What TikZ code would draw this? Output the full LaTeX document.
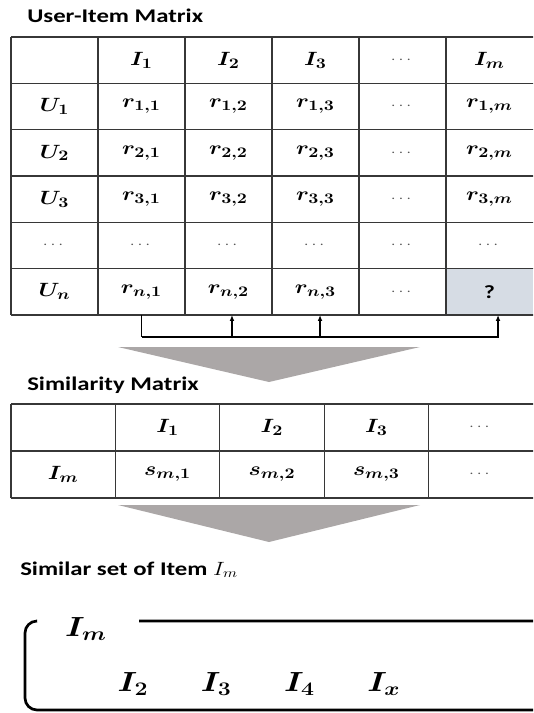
\documentclass[tikz,border=0pt]{standalone}
\usepackage{amsmath}
\usepackage{fontspec}
\usepackage{xcolor}
\usepackage{tikz}
\usetikzlibrary{arrows.meta,positioning,calc}
\newfontfamily\headfont[FakeStretch=1.28]{Carlito}
\definecolor{gridgray}{RGB}{55,55,55}
\definecolor{dotgray}{RGB}{85,85,85}
\definecolor{qfill}{RGB}{214,220,228}
\definecolor{funnelgray}{RGB}{171,167,167}
\newcommand{\gdots}{\mbox{\unboldmath\color{dotgray}\fontsize{11}{13}\selectfont$\cdots$}}
\newcommand{\wm}[1]{\scalebox{1.2}[1]{$#1$}}
\tikzset{
  title/.style={anchor=base west, inner sep=0pt,
    font=\headfont\bfseries\fontsize{14.5}{17}\selectfont},
  ucell/.style={minimum width=65.25pt, minimum height=34.75pt, inner sep=0pt,
    outer sep=0pt, font=\fontsize{15}{18}\selectfont\boldmath},
  scell/.style={ucell, minimum width=78.3pt, minimum height=35.25pt},
  gridline/.style={draw=gridgray, line width=1pt},
  link/.style={-{Latex[length=4.5pt,width=3.6pt]}, line width=0.9pt},
  setitem/.style={inner sep=0pt, font=\fontsize{20}{24}\selectfont\boldmath},
  setline/.style={line width=2pt, rounded corners=9pt}
}

\begin{document}
\begin{tikzpicture}[x=0.75pt, y=-0.75pt, node distance=39pt]
  \clip (0,0) rectangle (533,713);

  % user-item matrix
  \node[title] (uititle) at (27,22.5) {User-Item Matrix};
  \foreach \t [count=\c from 0] in {{}, I_1, I_2, I_3, \gdots, I_m}
    \node[ucell] (u-0-\c) at ({54.5+87*\c}, 60.2) {\wm{\t}};
  \foreach \r in {1,2,3}
    \foreach \t [count=\c from 0] in {U_\r, {r_{\r,1}}, {r_{\r,2}}, {r_{\r,3}}, \gdots, {r_{\r,m}}}
      \node[ucell] (u-\r-\c) at ({54.5+87*\c}, {60.2+46.33*\r}) {\wm{\t}};
  \foreach \c in {0,...,5}
    \node[ucell] (u-4-\c) at ({54.5+87*\c}, 245.5) {\wm{\gdots}};
  \foreach \t [count=\c from 0] in {U_n, {r_{n,1}}, {r_{n,2}}, {r_{n,3}}, \gdots}
    \node[ucell] (u-5-\c) at ({54.5+87*\c}, 291.8) {\wm{\t}};
  \node[ucell, fill=qfill, font=\headfont\bfseries\fontsize{14}{16}\selectfont]
    (u-5-5) at (489.5, 291.8) {?};

  \foreach \r in {0,...,5}
    \draw[gridline] (u-\r-0.north west) -- ++(530,0);
  \draw[gridline] (u-5-0.south west) -- ++(530,0);
  \foreach \c in {0,...,5}
    \draw[gridline] (u-0-\c.north west) -- (u-5-\c.south west);

  % pick the known ratings
  \coordinate (bus) at ($(u-5-1.south)+(0,22)$);
  \draw[line width=0.9pt] (u-5-1.south) -- (bus);
  \draw[link] (bus) -| ([xshift=2.6pt]u-5-2.south);
  \draw[link] (bus) -| ([xshift=3.4pt]u-5-3.south);
  \draw[link] (bus) -| ([xshift=6.4pt]u-5-5.south);

  \fill[funnelgray] (118,347) -- (420,347) -- (269,382) -- cycle;

  % similarity matrix
  \node[title] (simtitle) at (27,390) {Similarity Matrix};
  \foreach \t [count=\c from 0] in {{}, I_1, I_2, I_3, \gdots}
    \node[scell] (s-0-\c) at ({63.2+104.4*\c}, 427.5) {\wm{\t}};
  \foreach \t [count=\c from 0] in {I_m, {s_{m,1}}, {s_{m,2}}, {s_{m,3}}, \gdots}
    \node[scell] (s-1-\c) at ({63.2+104.4*\c}, 474.5) {\wm{\t}};

  \foreach \r in {0,1}
    \draw[gridline] (s-\r-0.north west) -- ++(530,0);
  \draw[gridline] (s-1-0.south west) -- ++(530,0);
  \foreach \c in {0,...,4}
    \draw[gridline] (s-0-\c.north west) -- (s-1-\c.south west);

  \fill[funnelgray] (118,505) -- (420,505) -- (269,542) -- cycle;

  % similar set
  \node[title] (settitle) at (20,575) {Similar set of Item \wm{I_m}};
  \node[setitem] (setm) at (86,629) {\wm{I_m}};
  \node[setitem] (set2) at (133,684) {\wm{I_2}};
  \node[setitem, base right=of set2] (set3) {\wm{I_3}};
  \node[setitem, base right=of set3] (set4) {\wm{I_4}};
  \node[setitem, base right=of set4] (setx) {\wm{I_x}};
  \draw[setline] (36,621) -- (25,621) -- (25,710) -- (560,710)
    -- (560,621) -- (139,621);
\end{tikzpicture}
\end{document}
